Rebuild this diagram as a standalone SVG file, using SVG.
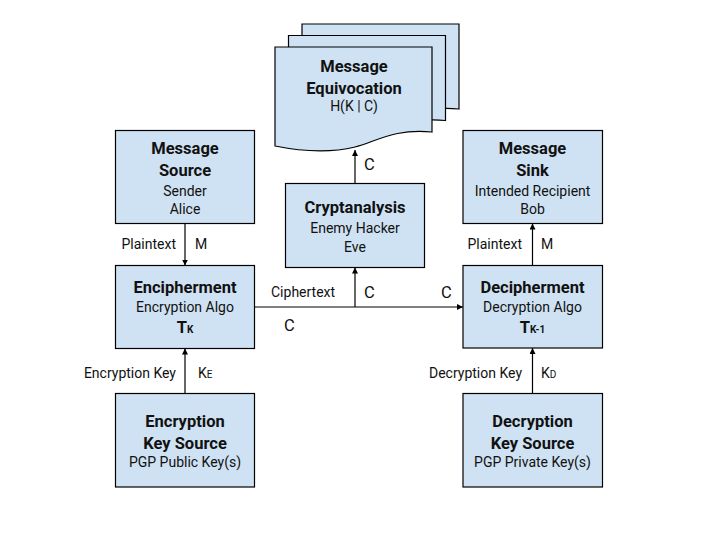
<svg xmlns="http://www.w3.org/2000/svg" width="720" height="540" viewBox="0 0 720 540">
<defs>
<style>
.box{fill:#cfe2f3;stroke:#000;stroke-width:1.2}
.t{font-family:Roboto,"Liberation Sans",sans-serif;fill:#111;text-anchor:middle}
.b{font-weight:bold;font-size:16.5px}
.r{font-size:14px}
.lbl{font-family:Roboto,"Liberation Sans",sans-serif;fill:#111;font-size:14px}
.cl{font-size:16.5px}
.c{stroke:#000;stroke-width:1.2;fill:none;marker-end:url(#ah)}
</style>
<marker id="ah" viewBox="0 0 8 8" refX="8" refY="4" markerWidth="6" markerHeight="6" markerUnits="userSpaceOnUse" orient="auto">
<path d="M0,0 L8,4 L0,8 Z" fill="#000"/>
</marker>
<path id="doc" d="M0,0 H157 V85 C120,81 100,95 80,100 C55,106 25,104 0,99 Z"/>
</defs>
<rect width="720" height="540" fill="#fff"/>

<g id="connectors">
<line class="c" x1="185" y1="223.5" x2="185" y2="265.5"/>
<line class="c" x1="185" y1="393.5" x2="185" y2="348.5"/>
<line class="c" x1="254.5" y1="307" x2="463" y2="307"/>
<line class="c" x1="355" y1="307" x2="355" y2="267.5"/>
<line class="c" x1="355" y1="183.5" x2="355" y2="150"/>
<line class="c" x1="532.5" y1="265.5" x2="532.5" y2="223.5"/>
<line class="c" x1="532.5" y1="393.5" x2="532.5" y2="348"/>
<text class="lbl" x="176" y="249" text-anchor="end">Plaintext</text>
<text class="lbl" x="195" y="249">M</text>
<text class="lbl" x="522" y="249" text-anchor="end">Plaintext</text>
<text class="lbl" x="541" y="249">M</text>
<text class="lbl" x="271" y="297">Ciphertext</text>
<text class="lbl cl" x="364" y="298">C</text>
<text class="lbl cl" x="441" y="298">C</text>
<text class="lbl cl" x="284" y="331">C</text>
<text class="lbl cl" x="364" y="170">C</text>
<text class="lbl" x="176" y="378" text-anchor="end">Encryption Key</text>
<text class="lbl" x="198" y="378">K<tspan font-size="10">E</tspan></text>
<text class="lbl" x="522" y="378" text-anchor="end">Decryption Key</text>
<text class="lbl" x="541" y="378">K<tspan font-size="10">D</tspan></text>
</g>

<g id="equivocation">
<use href="#doc" class="box" x="302" y="24"/>
<use href="#doc" class="box" x="288.5" y="35.5"/>
<use href="#doc" class="box" x="275" y="47"/>
<text class="t b" x="354" y="72">Message</text>
<text class="t b" x="354" y="94">Equivocation</text>
<text class="t r" x="354" y="111">H(K | C)</text>
</g>

<g id="source">
<rect class="box" x="115.5" y="130.5" width="139" height="93"/>
<text class="t b" x="185" y="154">Message</text>
<text class="t b" x="185" y="176">Source</text>
<text class="t r" x="185" y="196">Sender</text>
<text class="t r" x="185" y="214">Alice</text>
</g>

<g id="sink">
<rect class="box" x="463" y="130.5" width="139.5" height="93"/>
<text class="t b" x="532.5" y="154">Message</text>
<text class="t b" x="532.5" y="176">Sink</text>
<text class="t r" x="532.5" y="196">Intended Recipient</text>
<text class="t r" x="532.5" y="214">Bob</text>
</g>

<g id="cryptanalysis">
<rect class="box" x="285.5" y="183.5" width="139" height="84"/>
<text class="t b" x="355" y="213">Cryptanalysis</text>
<text class="t r" x="355" y="233">Enemy Hacker</text>
<text class="t r" x="355" y="252">Eve</text>
</g>

<g id="encipherment">
<rect class="box" x="115.5" y="265.5" width="139" height="83"/>
<text class="t b" x="185" y="293">Encipherment</text>
<text class="t r" x="185" y="312">Encryption Algo</text>
<text class="t b" x="185" y="333">T<tspan font-size="10">K</tspan></text>
</g>

<g id="decipherment">
<rect class="box" x="463" y="265.5" width="139.5" height="82.5"/>
<text class="t b" x="532.5" y="293">Decipherment</text>
<text class="t r" x="532.5" y="312">Decryption Algo</text>
<text class="t b" x="532.5" y="333">T<tspan font-size="10">K-1</tspan></text>
</g>

<g id="enckey">
<rect class="box" x="115.5" y="393.5" width="139" height="93.5"/>
<text class="t b" x="185" y="427">Encryption</text>
<text class="t b" x="185" y="449">Key Source</text>
<text class="t r" x="185" y="467">PGP Public Key(s)</text>
</g>

<g id="deckey">
<rect class="box" x="463" y="393.5" width="139.5" height="93.5"/>
<text class="t b" x="532.5" y="427">Decryption</text>
<text class="t b" x="532.5" y="449">Key Source</text>
<text class="t r" x="532.5" y="467">PGP Private Key(s)</text>
</g>
</svg>
